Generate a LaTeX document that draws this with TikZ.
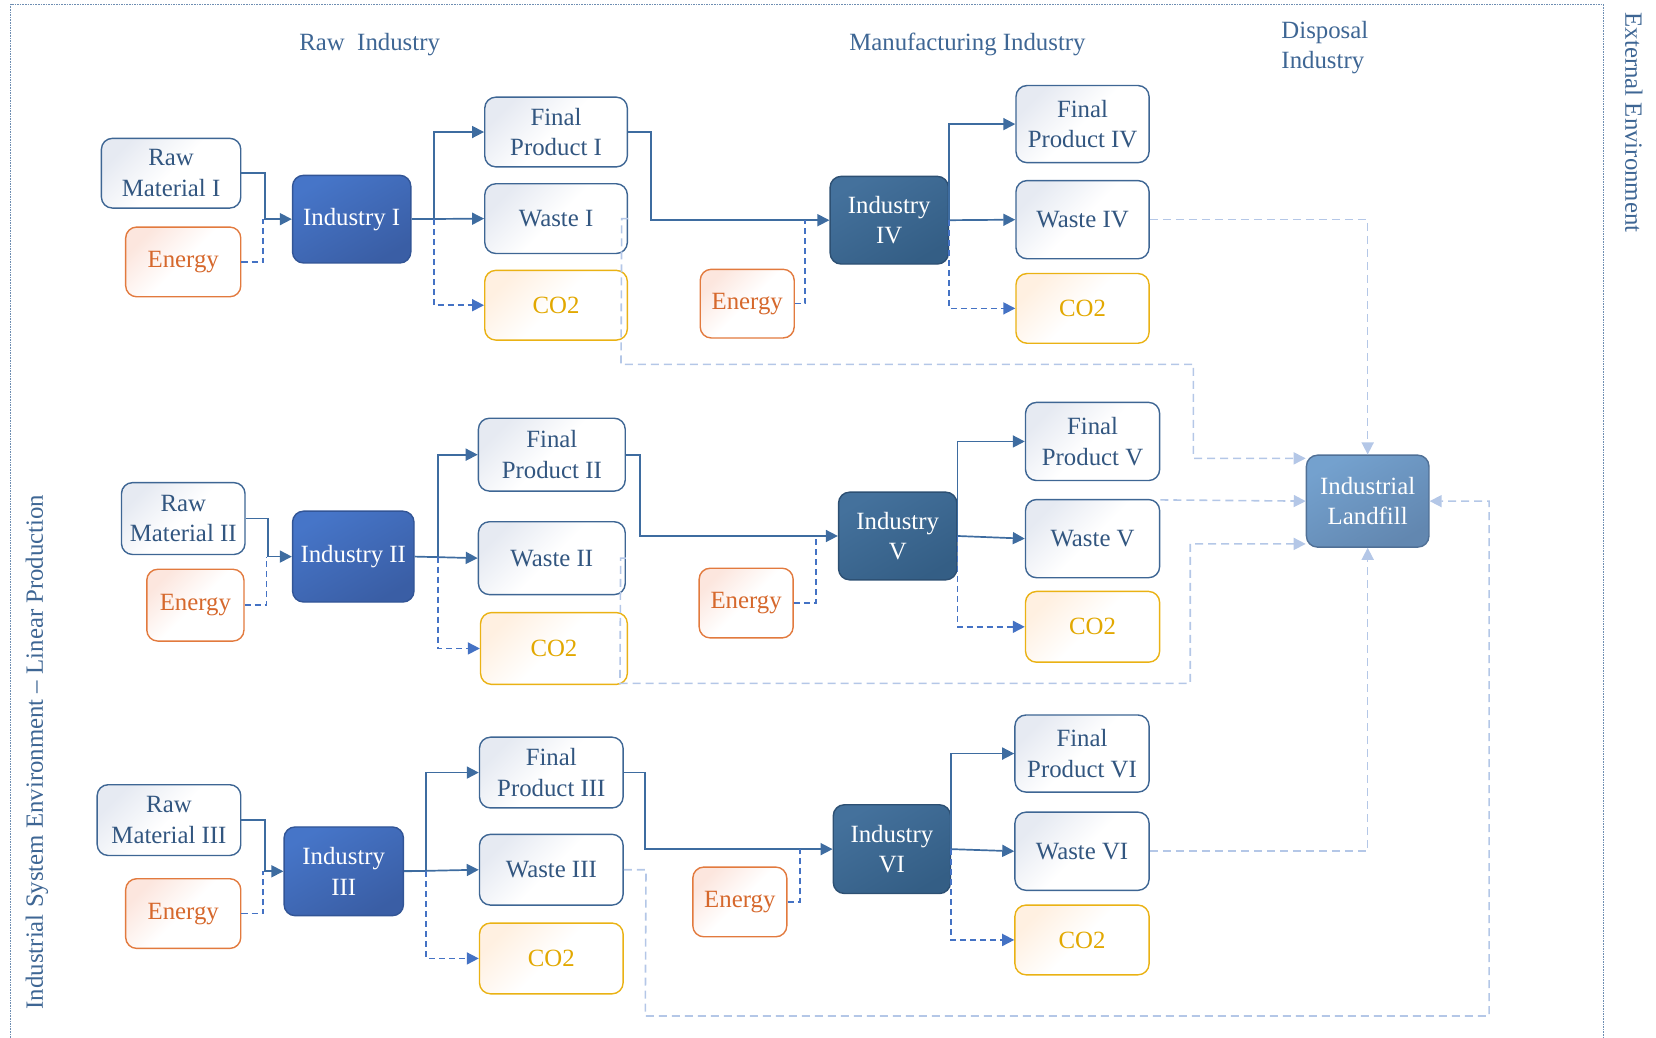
\documentclass[tikz,border=0pt]{standalone}
\usepackage{fontspec}
\setmainfont{Liberation Serif}
\usetikzlibrary{arrows.meta,calc}

% one drawing unit
\def\pu{0.528pt}
\newcommand\mainsize{\fontsize{12.4pt}{15.3pt}\selectfont}

\definecolor{txtblue}{RGB}{50,86,128}
\definecolor{boxline}{RGB}{62,102,148}
\definecolor{boxfill}{RGB}{230,234,242}
\definecolor{conn}{RGB}{62,108,160}
\definecolor{connd}{RGB}{68,114,196}
\definecolor{pale}{RGB}{180,199,231}
\definecolor{eline}{RGB}{226,122,62}
\definecolor{etext}{RGB}{214,104,44}
\definecolor{efill}{RGB}{252,230,222}
\definecolor{cline}{RGB}{234,178,20}
\definecolor{ctext}{RGB}{226,168,0}
\definecolor{cfill}{RGB}{255,240,225}
\definecolor{indAtop}{RGB}{70,117,200}
\definecolor{indAbot}{RGB}{58,94,165}
\definecolor{indAline}{RGB}{50,85,150}
\definecolor{indBtop}{RGB}{68,113,156}
\definecolor{indBbot}{RGB}{52,94,133}
\definecolor{indBline}{RGB}{45,80,115}
\definecolor{lftop}{RGB}{116,161,206}
\definecolor{lfbot}{RGB}{98,135,176}
\definecolor{lfline}{RGB}{80,112,150}
\definecolor{headtxt}{RGB}{62,102,148}
\definecolor{frame}{RGB}{110,142,178}

\tikzset{
  box/.style={rounded corners=5.5pt, align=center, inner sep=0pt, font=\mainsize, line width=0.7pt},
  lightbox/.style={box, draw=boxline, text=txtblue, top color=boxfill, bottom color=white, middle color=white, shading angle=45},
  energybox/.style={box, draw=eline, text=etext, top color=efill, bottom color=white, middle color=white, shading angle=45},
  cobox/.style={box, draw=cline, text=ctext, top color=cfill, bottom color=white, middle color=white, shading angle=45},
  indA/.style={box, draw=indAline, text=white, top color=indAtop, bottom color=indAbot, shading angle=30},
  indB/.style={box, draw=indBline, text=white, top color=indBtop, bottom color=indBbot, shading angle=30},
  landfill/.style={box, draw=lfline, text=white, top color=lftop, bottom color=lfbot, shading angle=30},
  head/.style={font=\mainsize, text=headtxt, inner sep=0pt},
  flow/.style={draw=conn, line width=0.85pt, -{Triangle[length=6pt,width=6pt]}},
  dflow/.style={draw=connd, line width=0.85pt, dash pattern=on 3pt off 2pt, -{Triangle[length=6pt,width=6pt]}},
  dlink/.style={draw=connd, line width=0.85pt, dash pattern=on 3pt off 2pt},
  waste/.style={draw=pale, line width=0.8pt, dash pattern=on 4pt off 2.5pt, -{Triangle[length=6pt,width=6pt]}},
}

% \bx{name}{style}{x1}{y1}{x2}{y2}{text}
\newcommand\bx[7]{\node[#2, minimum width={(#5-#3)*\pu}, minimum height={(#6-#4)*\pu}] (#1) at ({(#3+#5)/2},{(#4+#6)/2}) {#7};}

\begin{document}
\begin{tikzpicture}[x=\pu, y=-\pu]
\useasboundingbox (0,0) rectangle (1568,982);

% environment frame
\draw[frame, line width=0.6pt, dash pattern=on 0.8pt off 0.5pt] (10,990) -- (10,4) -- (1518,4) -- (1518,990);

% headings
\node[head] (hraw) at (350,42) {Raw\ \ Industry};
\node[head] (hman) at (916,42) {Manufacturing Industry};
\node[head, anchor=west, align=left, font=\fontsize{12.4pt}{14.8pt}\selectfont] (hdis) at (1213,45) {Disposal\\Industry};
\node[head, rotate=-90] (hext) at (1547,116) {External Environment};
\node[head, rotate=90] (hsys) at (35,712) {Industrial System Environment -- Linear Production};

% ---- first chain ----
\bx{rm1}{lightbox}{96}{131}{228}{197}{Raw\\Material I}
\bx{en1}{energybox}{119}{215}{228}{281}{Energy}
\bx{ind1}{indA}{277}{166}{389}{249}{Industry I}
\bx{fp1}{lightbox}{459}{92}{594}{158}{Final\\Product I}
\bx{w1}{lightbox}{459}{174}{594}{240}{Waste I}
\bx{co1}{cobox}{459}{256}{594}{322}{CO2}
\bx{en4}{energybox}{663}{255}{752}{320}{Energy}
\bx{ind4}{indB}{786}{167}{898}{250}{Industry\\IV}
\bx{fp4}{lightbox}{962}{81}{1088}{154}{Final\\Product IV}
\bx{w4}{lightbox}{962}{171}{1088}{245}{Waste IV}
\bx{co4}{cobox}{962}{259}{1088}{325}{CO2}

% ---- second chain ----
\bx{rm2}{lightbox}{115}{457}{232}{525}{Raw\\Material II}
\bx{en2}{energybox}{139}{539}{231}{607}{Energy}
\bx{ind2}{indA}{277}{484}{392}{570}{Industry II}
\bx{fp2}{lightbox}{453}{396}{592}{465}{Final\\Product II}
\bx{w2}{lightbox}{453}{494}{592}{563}{Waste II}
\bx{co2}{cobox}{455}{580}{594}{648}{CO2}
\bx{en5}{energybox}{662}{538}{751}{604}{Energy}
\bx{ind5}{indB}{794}{466}{906}{549}{Industry\\V}
\bx{fp5}{lightbox}{971}{381}{1098}{455}{Final\\Product V}
\bx{w5}{lightbox}{971}{473}{1098}{547}{Waste V}
\bx{co5}{cobox}{971}{560}{1098}{627}{CO2}

% ---- third chain ----
\bx{rm3}{lightbox}{92}{743}{228}{810}{Raw\\Material III}
\bx{en3}{energybox}{119}{832}{228}{898}{Energy}
\bx{ind3}{indA}{269}{783}{382}{867}{Industry\\III}
\bx{fp3}{lightbox}{454}{698}{590}{765}{Final\\Product III}
\bx{w3}{lightbox}{454}{790}{590}{857}{Waste III}
\bx{co3}{cobox}{454}{874}{590}{941}{CO2}
\bx{en6}{energybox}{656}{821}{745}{887}{Energy}
\bx{ind6}{indB}{789}{762}{900}{846}{Industry\\VI}
\bx{fp6}{lightbox}{961}{677}{1088}{750}{Final\\Product VI}
\bx{w6}{lightbox}{961}{769}{1088}{843}{Waste VI}
\bx{co6}{cobox}{961}{857}{1088}{923}{CO2}

% disposal
\bx{lf}{landfill}{1237}{431}{1353}{518}{Industrial\\Landfill}

% ---- flows, first chain ----
\draw[flow] (rm1.east) -- ++(22,0) |- (ind1.west);
\draw[dlink] (en1.east) -| ($(ind1.west)+(-27,0)$);
\draw[flow] (ind1.east) -- ++(21,0) |- (fp1.west);
\draw[flow] (ind1.east) -- (w1.west);
\draw[dflow] ($(ind1.east)+(21,0)$) |- (co1.west);
\draw[flow] (fp1.east) -- ++(22,0) |- (ind4.west);
\draw[dlink] (en4.east) -| ($(ind4.west)+(-23,0)$);
\draw[flow] (ind4.east) |- (fp4.west);
\draw[flow] (ind4.east) -- (w4.west);
\draw[dflow] (ind4.east) |- (co4.west);

% ---- flows, second chain ----
\draw[flow] (rm2.east) -- ++(21,0) |- (ind2.west);
\draw[dlink] (en2.east) -| ($(ind2.west)+(-24,0)$);
\draw[flow] (ind2.east) -- ++(22,0) |- (fp2.west);
\draw[flow] (ind2.east) -- (w2.west);
\draw[dflow] ($(ind2.east)+(22,0)$) |- (co2.west);
\draw[flow] (fp2.east) -- ++(13,0) |- (ind5.west);
\draw[dlink] (en5.east) -| ($(ind5.west)+(-21,0)$);
\draw[flow] (ind5.east) |- (fp5.west);
\draw[flow] (ind5.east) -- (w5.west);
\draw[dflow] (ind5.east) |- (co5.west);

% ---- flows, third chain ----
\draw[flow] (rm3.east) -- ++(22,0) |- (ind3.west);
\draw[dlink] (en3.east) -| ($(ind3.west)+(-19,0)$);
\draw[flow] (ind3.east) -- ++(21,0) |- (fp3.west);
\draw[flow] (ind3.east) -- (w3.west);
\draw[dflow] ($(ind3.east)+(21,0)$) |- (co3.west);
\draw[flow] (fp3.east) -- ++(20,0) |- (ind6.west);
\draw[dlink] (en6.east) -| ($(ind6.west)+(-31,0)$);
\draw[flow] (ind6.east) |- (fp6.west);
\draw[flow] (ind6.east) -- (w6.west);
\draw[dflow] (ind6.east) |- (co6.west);

% ---- waste to landfill ----
\draw[waste] (w1.east) -- ++(-6,0) -- (588,345) -- (1130,345) |- ($(lf.west)+(0,-40.5)$);
\draw[waste] (w2.east) -- ++(-5,0) -- (587,647) -- (1127,647) |- ($(lf.west)+(0,40.5)$);
\draw[waste] (w3.east) -- ++(21,0) -- (611,962) -- (1410,962) |- (lf.east);
\draw[waste] (w4.east) -| (lf.north);
\draw[waste] ($(w5.north east)+(0,1)$) -- (lf.west);
\draw[waste] (w6.east) -| (lf.south);
\end{tikzpicture}
\end{document}
